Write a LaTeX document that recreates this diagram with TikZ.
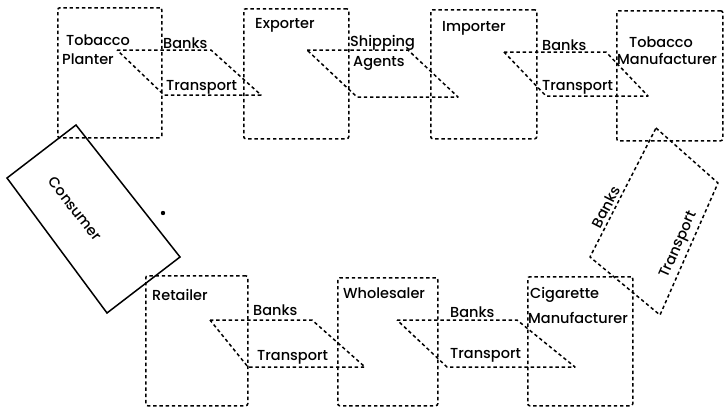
\documentclass[tikz,border=0pt]{standalone}
\usepackage{fontspec}
\setmainfont{Poppins}[UprightFont={* Medium}]
\begin{document}
\begin{tikzpicture}[x=1pt,y=-1pt,
  dashline/.style={dash pattern=on 3.4pt off 2.8pt, line width=1.5pt},
  stage/.style={draw, dashline, rounded corners=2pt, anchor=north west, inner sep=0pt},
  lbl/.style={anchor=west, inner sep=0pt, font=\fontsize{14.5}{15}\selectfont},
  rlbl/.style={anchor=center, inner sep=0pt, font=\fontsize{14.5}{15}\selectfont},
  flow/.style={dashline, line join=round},
]
\useasboundingbox (0,0) rectangle (724,408);

% stages of the chain
\node[stage, minimum width=104pt, minimum height=130pt] (planter) at (57,7) {};
\node[stage, minimum width=105pt, minimum height=130pt] (exporter) at (243,8) {};
\node[stage, minimum width=106pt, minimum height=129pt] (importer) at (430,9) {};
\node[stage, minimum width=106pt, minimum height=130pt] (tobmanu) at (616,10) {};
\node[stage, minimum width=102pt, minimum height=130pt] (retailer) at (145,275) {};
\node[stage, minimum width=100pt, minimum height=128pt] (wholesaler) at (337,277) {};
\node[stage, minimum width=105pt, minimum height=129pt] (cigmanu) at (527,276) {};

% services between stages
\draw[flow] (117,50) -- (211,50) -- (261,95) -- (164,95) -- cycle;
\draw[flow] (307,50) -- (408,50) -- (458,97) -- (357,97) -- cycle;
\draw[flow] (504,52) -- (606,52) -- (648,96) -- (546,96) -- cycle;
\draw[flow] (210,320) -- (312,320) -- (365,367) -- (248,367) -- cycle;
\draw[flow] (397,320) -- (517,320) -- (575,367) -- (447,367) -- cycle;
\draw[flow] (656,128) -- (718,183) -- (660,315) -- (590,257) -- cycle;

% consumer
\draw[line width=1.5pt] (76,125) -- (180,257) -- (107,313) -- (7,178) -- cycle;
\node[rlbl, rotate=-52] (consumer) at (75,209) {Consumer};
\fill (163,213) circle (2.2pt);

% stage names
\node[lbl] at (66,40) {Tobacco};
\node[lbl] at (62,59) {Planter};
\node[lbl] at (255,25) {Exporter};
\node[lbl] at (442,28) {Importer};
\node[lbl] at (629,42) {Tobacco};
\node[lbl] at (617,59) {Manufacturer};
\node[lbl] at (152,295) {Retailer};
\node[lbl] at (343,293) {Wholesaler};
\node[lbl] at (530,295) {Cigarette};
\node[lbl] at (528,318) {Manufacturer};

% service names
\node[lbl] at (163,43) {Banks};
\node[lbl] at (166,87) {Transport};
\node[lbl] at (350,43) {Shipping};
\node[lbl] at (353,63) {Agents};
\node[lbl] at (542,45) {Banks};
\node[lbl] at (542,87) {Transport};
\node[lbl] at (253,310) {Banks};
\node[lbl] at (257,357) {Transport};
\node[lbl] at (450,312) {Banks};
\node[lbl] at (450,355) {Transport};
\node[rlbl, rotate=63] at (606,207) {Banks};
\node[rlbl, rotate=66] at (679,245) {Transport};
\end{tikzpicture}
\end{document}
